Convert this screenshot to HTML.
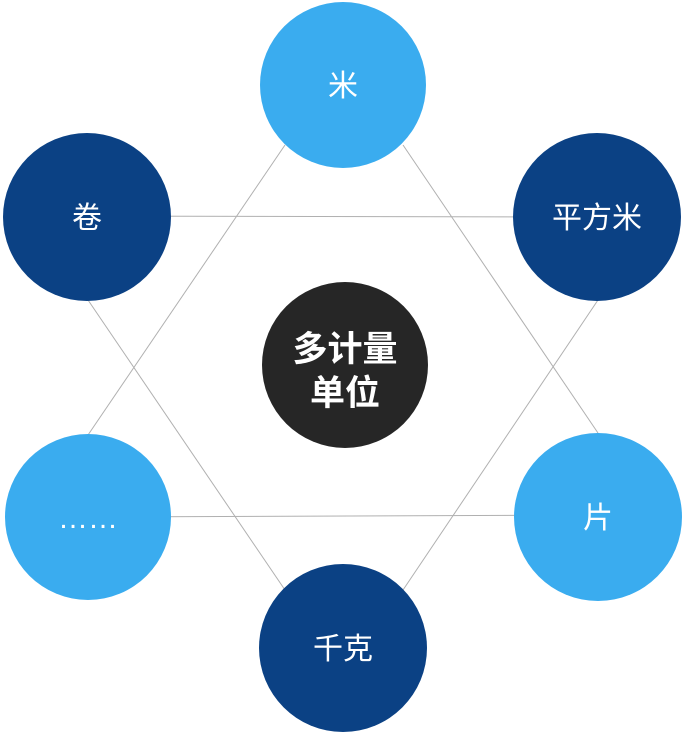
<!DOCTYPE html>
<html><head><meta charset="utf-8"><style>
html,body{margin:0;padding:0;background:#fff;}
svg{display:block;}
text{font-family:"Liberation Sans","Noto Sans CJK SC",sans-serif;fill:#fff;}
</style></head><body>
<svg width="683" height="733" viewBox="0 0 683 733">
<g stroke="#b0b0b0" stroke-width="1" fill="none">
<line x1="285" y1="145" x2="88" y2="435"/>
<line x1="403" y1="145" x2="598" y2="433"/>
<line x1="88" y1="517" x2="598" y2="515"/>
<line x1="87" y1="216" x2="597" y2="217"/>
<line x1="88" y1="300" x2="285" y2="590"/>
<line x1="598" y1="300" x2="403" y2="590"/>
</g>
<circle cx="343" cy="85" r="83" fill="#3aacef"/>
<circle cx="87" cy="217" r="84" fill="#0b4184"/>
<circle cx="597" cy="217" r="84" fill="#0b4184"/>
<circle cx="345" cy="365" r="83" fill="#262626"/>
<circle cx="88" cy="517" r="83" fill="#3aacef"/>
<circle cx="598" cy="517" r="84" fill="#3aacef"/>
<circle cx="343" cy="648" r="84" fill="#0b4184"/>
<g font-size="30" text-anchor="middle">
<text x="343" y="96">米</text>
<text x="87" y="228">卷</text>
<text x="597" y="228">平方米</text>
<text x="88" y="528">……</text>
<text x="598" y="528">片</text>
<text x="343" y="659">千克</text>
</g>
<g font-size="35" font-weight="bold" text-anchor="middle">
<text x="345" y="361">多计量</text>
<text x="345" y="405">单位</text>
</g>
</svg>
</body></html>
